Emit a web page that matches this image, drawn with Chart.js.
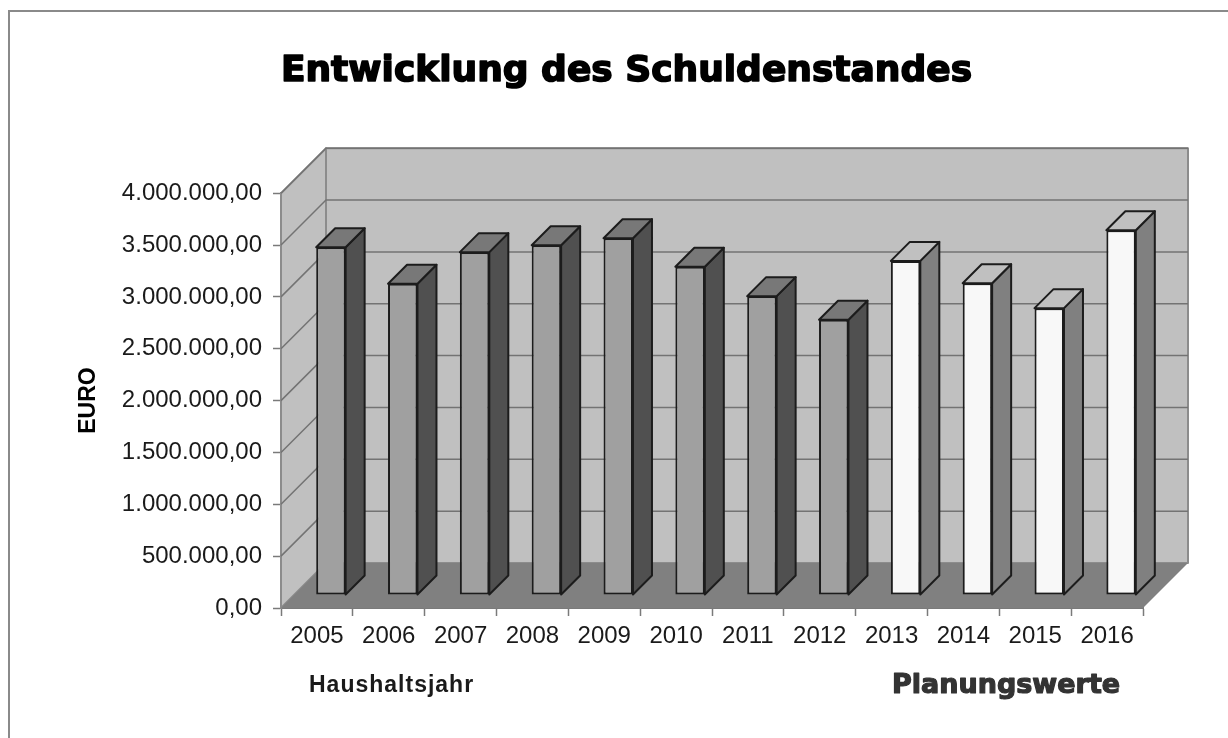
<!DOCTYPE html>
<html lang="de">
<head>
<meta charset="utf-8">
<title>Entwicklung des Schuldenstandes</title>
<script src="https://cdn.jsdelivr.net/npm/chart.js@4"></script>
<style>
    html, body { margin: 0; padding: 0; background: #fff; }
    canvas { display: block; }
</style>
</head>
<body>
<canvas id="debtChart" width="1228" height="738"></canvas>
<script>
const years = ["2005", "2006", "2007", "2008", "2009", "2010", "2011", "2012", "2013", "2014", "2015", "2016"];
const actualValues = [3354000, 3002000, 3306000, 3373000, 3441000, 3166000, 2882000, 2655000, null, null, null, null];
const plannedValues = [null, null, null, null, null, null, null, null, 3222000, 3007000, 2766000, 3518000];

// depth of the fake 3D box and of each bar, in pixels
const WALL_DX = 45, WALL_DY = 45;
const BAR_DEPTH = 19, BAR_SHIFT_X = 14, BAR_SHIFT_Y = 13;

function polygon(ctx, pts, fill, stroke, width) {
    ctx.beginPath();
    pts.forEach(([x, y], i) => i ? ctx.lineTo(x, y) : ctx.moveTo(x, y));
    ctx.closePath();
    ctx.fillStyle = fill;
    ctx.fill();
    if (stroke) {
        ctx.strokeStyle = stroke;
        ctx.lineWidth = width;
        ctx.lineJoin = "round";
        ctx.stroke();
    }
}

// Arial Black is not installed, so thicken the bold text with an outline
function heavyText(ctx, text, x, y, color, width) {
    ctx.fillStyle = color;
    ctx.strokeStyle = color;
    ctx.lineWidth = width;
    ctx.lineJoin = "round";
    ctx.strokeText(text, x, y);
    ctx.fillText(text, x, y);
}

const box3d = {
    id: "box3d",
    afterLayout(chart) {
        // the heading sits right of the page centre
        chart.titleBlock.left += 55;
        chart.titleBlock.right += 55;
    },
    beforeDatasetsDraw(chart) {
        const { ctx, chartArea: a, scales: { y } } = chart;
        const backTop = a.top - WALL_DY, backBottom = a.bottom - WALL_DY;
        const backLeft = a.left + WALL_DX, backRight = a.right + WALL_DX;

        ctx.save();
        polygon(ctx, [[backLeft, backTop], [backRight, backTop], [backRight, backBottom], [backLeft, backBottom]], "#c0c0c0", "#8c8c8c", 2);
        polygon(ctx, [[a.left, a.top], [backLeft, backTop], [backLeft, backBottom], [a.left, a.bottom]], "#c0c0c0", "#8c8c8c", 2);

        ctx.strokeStyle = "#737373";
        ctx.lineWidth = 1.5;
        y.ticks.forEach(t => {
            const py = y.getPixelForValue(t.value);
            if (t.value === 0) return;
            ctx.beginPath();
            ctx.moveTo(a.left, py);
            ctx.lineTo(backLeft, py - WALL_DY);
            ctx.lineTo(backRight, py - WALL_DY);
            ctx.stroke();
        });
        polygon(ctx, [[a.left, a.bottom], [a.right, a.bottom], [backRight, backBottom], [backLeft, backBottom]], "#808080");
        ctx.restore();

        ctx.save();
        ctx.translate(BAR_SHIFT_X, -BAR_SHIFT_Y);
    },
    afterDatasetsDraw(chart) {
        const { ctx } = chart;
        ctx.restore();
        ctx.save();
        chart.data.datasets.forEach((ds, i) => {
            chart.getDatasetMeta(i).data.forEach((bar, j) => {
                if (ds.data[j] === null) return;
                const { x, y, base, width } = bar.getProps(["x", "y", "base", "width"]);
                const l = x - width / 2 + BAR_SHIFT_X, r = x + width / 2 + BAR_SHIFT_X;
                const t = y - BAR_SHIFT_Y, b = base - BAR_SHIFT_Y;
                polygon(ctx, [[r, t], [r + BAR_DEPTH, t - BAR_DEPTH], [r + BAR_DEPTH, b - BAR_DEPTH], [r, b]], ds.sideColor, "#1c1c1c", 2);
                polygon(ctx, [[l, t], [l + BAR_DEPTH, t - BAR_DEPTH], [r + BAR_DEPTH, t - BAR_DEPTH], [r, t]], ds.topColor, "#1c1c1c", 2);
            });
        });
        ctx.restore();
    },
    afterDraw(chart) {
        const { ctx, width, height, titleBlock } = chart;
        ctx.save();
        // only the top and left edge of the frame are in the picture
        ctx.strokeStyle = "#8a8a8a";
        ctx.lineWidth = 2;
        ctx.beginPath();
        ctx.moveTo(9, height);
        ctx.lineTo(9, 11);
        ctx.lineTo(width, 11);
        ctx.stroke();

        ctx.textBaseline = "middle";
        ctx.textAlign = "center";
        const t = chart.options.plugins.title;
        ctx.font = `bold ${t.font.size}px ${t.font.family}`;
        heavyText(ctx, t.text, (titleBlock.left + titleBlock.right) / 2, titleBlock.top + t.padding.top + t.font.size * t.font.lineHeight / 2, t.color, 1.6);

        ctx.textAlign = "left";
        ctx.fillStyle = "#1a1a1a";
        ctx.font = "bold 23px 'Liberation Sans'";
        ctx.letterSpacing = "1px";
        ctx.fillText("Haushaltsjahr", 309, 686);
        ctx.font = "bold 27px 'DejaVu Sans'";
        ctx.letterSpacing = "0px";
        heavyText(ctx, "Planungswerte", 892, 686, "#333333", 1.2);
        ctx.restore();
    }
};

new Chart(document.getElementById("debtChart"), {
    type: "bar",
    plugins: [box3d],
    data: {
        labels: years,
        datasets: [
            { label: "Haushaltsjahr", data: actualValues, backgroundColor: "#a0a0a0", sideColor: "#505050", topColor: "#787878" },
            { label: "Planungswerte", data: plannedValues, backgroundColor: "#f8f8f8", sideColor: "#808080", topColor: "#c0c0c0" }
        ]
    },
    options: {
        responsive: false,
        animation: false,
        layout: { autoPadding: false, padding: { left: 0, right: 85, top: 0, bottom: 0 } },
        datasets: {
            bar: {
                barPercentage: 0.41,
                categoryPercentage: 1,
                borderWidth: 2,
                borderColor: "#1c1c1c",
                borderSkipped: false
            }
        },
        plugins: {
            legend: { display: false },
            tooltip: { enabled: false },
            title: {
                display: true,
                text: "Entwicklung des Schuldenstandes",
                color: "#000",
                font: { family: "'DejaVu Sans'", size: 36, weight: "bold", lineHeight: 1.2 },
                padding: { top: 50, bottom: 100 }
            }
        },
        scales: {
            x: {
                stacked: true,
                afterFit: s => { s.height = 130; },
                border: { color: "#7a7a7a", width: 2 },
                grid: { drawOnChartArea: false, tickColor: "#7a7a7a", tickLength: 8, tickWidth: 1.5 },
                ticks: { color: "#1a1a1a", padding: 6, maxRotation: 0, font: { family: "'Liberation Sans'", size: 24 } }
            },
            y: {
                stacked: true,
                min: 0,
                max: 4000000,
                afterFit: s => { s.width = 281; },
                border: { color: "#7a7a7a", width: 2 },
                grid: { drawOnChartArea: false, tickColor: "#7a7a7a", tickLength: 8, tickWidth: 1.5 },
                ticks: {
                    stepSize: 500000,
                    color: "#1a1a1a",
                    padding: 11,
                    font: { family: "'Liberation Sans'", size: 24 },
                    callback: v => v.toLocaleString("de-DE", { minimumFractionDigits: 2, maximumFractionDigits: 2 })
                },
                title: {
                    display: true,
                    text: "EURO",
                    color: "#000",
                    padding: { top: 75, bottom: 0 },
                    font: { family: "'Liberation Sans'", size: 23, weight: "bold", lineHeight: 1.2 }
                }
            }
        }
    }
});
</script>
</body>
</html>
